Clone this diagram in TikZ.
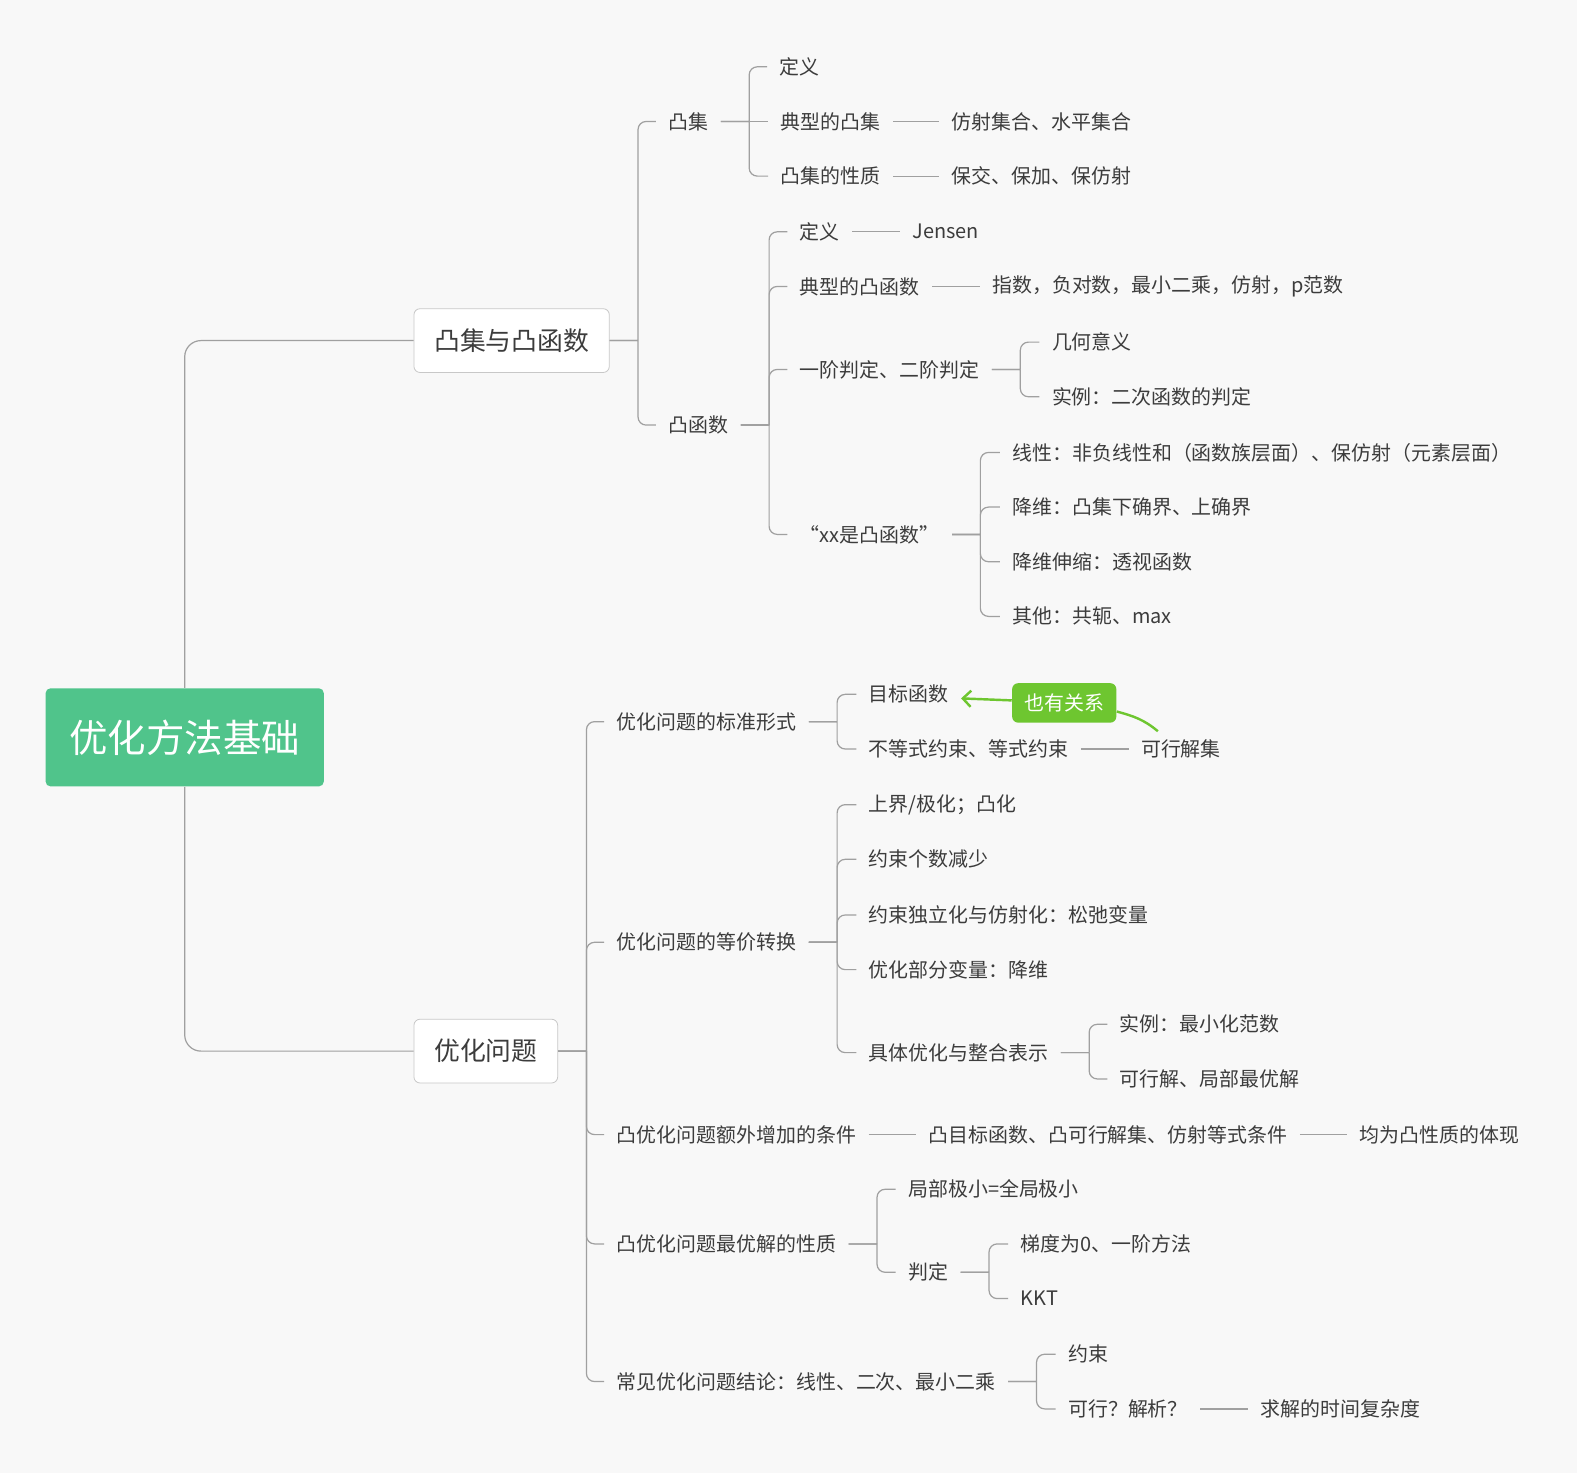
\documentclass[tikz,border=0pt]{standalone}
\usepackage{fontspec}
\setmainfont{Noto Sans CJK SC}
\usetikzlibrary{arrows.meta}
\definecolor{linegray}{RGB}{160,160,160}
\definecolor{boxgray}{RGB}{200,200,200}
\definecolor{textgray}{RGB}{60,60,60}
\definecolor{rootgreen}{RGB}{80,196,139}
\definecolor{relgreen}{RGB}{110,198,48}
\definecolor{bggray}{RGB}{248,248,248}

\begin{document}
\begin{tikzpicture}[x=0.5pt,y=-0.5pt,
  topic/.style={anchor=west,inner xsep=6pt,inner ysep=2pt,text=textgray,font=\fontsize{9.85}{12}\selectfont},
  main topic/.style={draw=boxgray,fill=white,rounded corners=3pt,inner xsep=10pt,minimum height=31.5pt,text=textgray,font=\fontsize{12.75}{15}\selectfont},
  root node/.style={fill=rootgreen,rounded corners=2.5pt,minimum width=137.5pt,minimum height=48.5pt,text=white,font=\fontsize{19}{22}\selectfont},
  branch/.style={draw=linegray,line width=0.6pt,rounded corners=4pt},
  bracket/.style={to path={(\tikztostart.east) -- ++(28,0) ++(0,0) |- (\tikztotarget.west)}},
  rel/.style={draw=relgreen,line width=1.2pt,-{Straight Barb[length=4pt,width=8pt]}},
  rel label/.style={fill=relgreen,rounded corners=3pt,text=white,minimum width=51.5pt,minimum height=19.5pt,font=\fontsize{9.85}{12}\selectfont}]
  \useasboundingbox (0,0) rectangle (1568,1464);
  \fill[bggray] (0,0) rectangle (1558,1455);

  \node[root node] (root) at (182.5,728.5) {优化方法基础};
  \node[main topic] (cc) at (505.5,336.5) {凸集与凸函数};
  \node[main topic] (op) at (480,1038.5) {优化问题};

  % convex sets and functions
  \node[topic] (cs) at (648,120) {凸集};
  \node[topic] (cf) at (648,420) {凸函数};
  \node[topic] (csdef) at (758,66) {定义};
  \node[topic] (cstyp) at (759,120) {典型的凸集};
  \node[topic] (cstypx) at (928,120) {仿射集合、水平集合};
  \node[topic] (csprop) at (759,174) {凸集的性质};
  \node[topic] (cspropx) at (928,174) {保交、保加、保仿射};
  \node[topic] (cfdef) at (778,229) {定义};
  \node[topic] (jensen) at (889,229) {Jensen};
  \node[topic] (cftyp) at (778,283) {典型的凸函数};
  \node[topic] (cftypx) at (968,283) {指数，负对数，最小二乘，仿射，p范数};
  \node[topic] (order) at (778,365) {一阶判定、二阶判定};
  \node[topic] (geo) at (1027,338) {几何意义};
  \node[topic] (quad) at (1027,392) {实例：二次函数的判定};
  \node[topic] (xx) at (778,528) {“xx是凸函数”};
  \node[topic] (lin) at (988,447) {线性：非负线性和（函数族层面）、保仿射（元素层面）};
  \node[topic] (inf) at (988,501) {降维：凸集下确界、上确界};
  \node[topic] (persp) at (988,555) {降维伸缩：透视函数};
  \node[topic] (conj) at (988,609) {其他：共轭、max};

  % optimization problems
  \node[topic] (std) at (597,713) {优化问题的标准形式};
  \node[topic] (obj) at (846,686) {目标函数};
  \node[topic] (cons) at (846,740) {不等式约束、等式约束};
  \node[topic] (fk) at (1115,740) {可行解集};
  \node[topic] (eqv) at (597,931) {优化问题的等价转换};
  \node[topic] (ub) at (846,795) {上界/极化；凸化};
  \node[topic] (fewer) at (846,849) {约束个数减少};
  \node[topic] (slack) at (846,904) {约束独立化与仿射化：松弛变量};
  \node[topic] (part) at (846,958) {优化部分变量：降维};
  \node[topic] (spec) at (846,1040) {具体优化与整合表示};
  \node[topic] (norm) at (1094,1012) {实例：最小化范数};
  \node[topic] (loc) at (1094,1066) {可行解、局部最优解};
  \node[topic] (extra) at (597,1121) {凸优化问题额外增加的条件};
  \node[topic] (extrax) at (905,1121) {凸目标函数、凸可行解集、仿射等式条件};
  \node[topic] (extray) at (1331,1121) {均为凸性质的体现};
  \node[topic] (optp) at (597,1229) {凸优化问题最优解的性质};
  \node[topic] (glob) at (885,1175) {局部极小=全局极小};
  \node[topic] (judge) at (885,1257) {判定};
  \node[topic] (grad) at (996,1229) {梯度为0、一阶方法};
  \node[topic] (kkt) at (996,1283) {KKT};
  \node[topic] (common) at (597,1365) {常见优化问题结论：线性、二次、最小二乘};
  \node[topic] (ycons) at (1043,1338) {约束};
  \node[topic] (feas) at (1043,1392) {可行？解析？};
  \node[topic] (time) at (1233,1392) {求解的时间复杂度};

  \draw[branch,rounded corners=8pt] (root.north) |- (cc.west);
  \draw[branch,rounded corners=8pt] (root.south) |- (op.west);

  \path[branch]
    (cc) edge[bracket] (cs) edge[bracket] (cf)
    (cs) edge[bracket] (csdef) edge (cstyp) edge[bracket] (csprop)
    (cstyp) edge (cstypx)
    (csprop) edge (cspropx)
    (cf) edge[bracket] (cfdef) edge[bracket] (cftyp) edge[bracket] (order) edge[bracket] (xx)
    (cfdef) edge (jensen)
    (cftyp) edge (cftypx)
    (order) edge[bracket] (geo) edge[bracket] (quad)
    (xx) edge[bracket] (lin) edge[bracket] (inf) edge[bracket] (persp) edge[bracket] (conj)
    (op) edge[bracket] (std) edge[bracket] (eqv) edge[bracket] (extra) edge[bracket] (optp) edge[bracket] (common)
    (std) edge[bracket] (obj) edge[bracket] (cons)
    (cons) edge (fk)
    (eqv) edge[bracket] (ub) edge[bracket] (fewer) edge[bracket] (slack) edge[bracket] (part) edge[bracket] (spec)
    (spec) edge[bracket] (norm) edge[bracket] (loc)
    (extra) edge (extrax)
    (extrax) edge (extray)
    (optp) edge[bracket] (glob) edge[bracket] (judge)
    (judge) edge[bracket] (grad) edge[bracket] (kkt)
    (common) edge[bracket] (ycons) edge[bracket] (feas)
    (feas) edge (time)
  ;

  % relation
  \node[rel label] (rl) at (1051.5,694.5) {也有关系};
  \draw[rel] ([xshift=14.5pt,yshift=2pt]fk.north west) to[out=140,in=-15] ([yshift=-4.25pt]rl.east)
    ([yshift=1.25pt]rl.west) -- ([yshift=-2pt]obj.east);
\end{tikzpicture}
\end{document}
